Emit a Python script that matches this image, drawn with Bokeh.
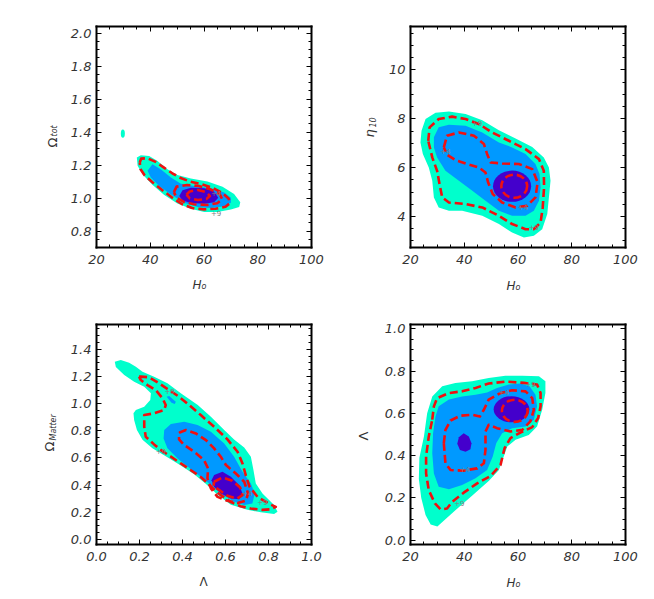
from math import pi
from bokeh.plotting import figure
from bokeh.models import (Range1d, LinearAxis, SingleIntervalTicker, PrintfTickFormatter,
                          BasicTickFormatter, CustomJSTickFormatter, Label, ColumnDataSource)
from bokeh.layouts import column, row
from bokeh.core.properties import value
from bokeh.embed import file_html
from bokeh.resources import INLINE

# ---------------- colours ----------------
CYAN = "#00ffcc"
BLUE = "#0099ff"
PURPLE = "#4400cc"
RED = "#f01010"

# ================= Panel 1 : Omega_tot vs H0 =================
P1_CYAN_H = [35.0, 36.5, 39.6, 42.7, 46.4, 50.1, 55.1, 61.3, 66.9, 71.2, 73.5, 73.1, 70.0, 65.0, 60.1, 55.1, 50.1, 45.2, 40.8, 37.1, 35.3]
P1_CYAN_O = [1.245, 1.260, 1.255, 1.225, 1.175, 1.140, 1.118, 1.100, 1.068, 1.025, 0.975, 0.946, 0.930, 0.916, 0.915, 0.935, 0.967, 1.018, 1.080, 1.144, 1.195]
P1_BLUE_H = [39.0, 40.8, 43.9, 47.7, 51.4, 56.3, 62.5, 67.5, 70.0, 70.0, 67.5, 62.5, 57.6, 52.6, 47.7, 43.3, 40.2]
P1_BLUE_O = [1.165, 1.205, 1.175, 1.124, 1.087, 1.073, 1.059, 1.033, 1.002, 0.972, 0.950, 0.940, 0.945, 0.972, 1.022, 1.073, 1.124]
P1_CORE_H = [50.8, 52.0, 55.1, 60.1, 63.8, 65.3, 63.8, 60.1, 55.1, 52.0]
P1_CORE_O = [1.013, 1.047, 1.063, 1.059, 1.039, 1.002, 0.975, 0.965, 0.970, 0.985]
P1_BLOB = (29.8, 1.39, 1.5, 0.05)  # small isolated island: centre H, centre Omega, width, height
P1_C9_H = [36.1, 36.6, 38.9, 42.0, 45.1, 48.2, 51.3, 55.0, 59.3, 63.0, 66.8, 69.2, 69.6, 68.0, 64.3, 59.9, 55.6, 51.9, 48.2, 44.4, 40.7, 37.9, 36.4]
P1_C9_O = [1.215, 1.239, 1.241, 1.219, 1.184, 1.150, 1.121, 1.099, 1.083, 1.063, 1.032, 0.996, 0.968, 0.947, 0.935, 0.931, 0.939, 0.962, 1.002, 1.049, 1.097, 1.138, 1.174]
P1_C4_H = [48.8, 49.8, 53.7, 58.1, 62.4, 65.9, 66.8, 64.9, 61.2, 56.2, 52.5, 49.8]
P1_C4_O = [1.036, 1.069, 1.079, 1.073, 1.053, 1.022, 0.992, 0.968, 0.958, 0.962, 0.976, 1.002]
P1_C1_H = [53.5, 54.7, 57.7, 60.9, 62.2, 60.9, 57.7, 54.7]
P1_C1_O = [1.020, 1.040, 1.049, 1.036, 1.012, 0.994, 0.988, 0.998]
P1_LAB_T = ["+4", "+9"]
P1_LAB_X = [64.5, 64.5]
P1_LAB_Y = [1.03, 0.912]

# ================= Panel 2 : eta_10 vs H0 =================
P2_CYAN_H = [23.7, 24.1, 25.6, 29.3, 34.3, 40.5, 46.7, 52.9, 59.1, 65.3, 69.6, 71.5, 72.1, 71.5, 70.9, 69.0, 65.9, 62.2, 57.8, 52.9, 46.7, 39.2, 34.3, 30.5, 28.7, 28.1, 26.8, 24.6]
P2_CYAN_E = [7.03, 7.51, 7.99, 8.25, 8.30, 8.20, 7.94, 7.53, 7.19, 6.85, 6.42, 6.01, 5.46, 4.78, 4.10, 3.48, 3.21, 3.14, 3.34, 3.69, 4.03, 4.23, 4.23, 4.37, 4.78, 5.46, 6.01, 6.56]
P2_BLUE_H = [28.7, 30.5, 34.3, 40.5, 46.7, 52.9, 57.8, 62.8, 66.5, 68.0, 68.4, 67.8, 65.9, 62.8, 57.8, 52.9, 47.9, 43.0, 38.0, 33.0, 29.9, 28.7]
P2_BLUE_E = [7.24, 7.65, 7.76, 7.72, 7.44, 7.03, 6.83, 6.56, 6.15, 5.74, 5.19, 4.64, 4.23, 4.03, 4.03, 4.23, 4.64, 5.05, 5.46, 5.87, 6.42, 6.83]
P2_CORE = (57.8, 5.24, 14.2, 1.28)
P2_C9_H = [26.6, 27.1, 30.5, 35.5, 40.5, 45.4, 50.4, 56.6, 62.8, 67.8, 69.6, 69.7, 69.2, 68.4, 65.9, 62.8, 57.8, 52.9, 46.7, 40.5, 34.3, 31.8, 30.8, 29.9, 28.1]
P2_C9_E = [7.10, 7.65, 7.99, 8.09, 7.99, 7.79, 7.44, 7.10, 6.76, 6.35, 5.87, 5.19, 4.37, 3.75, 3.48, 3.48, 3.69, 4.03, 4.37, 4.51, 4.57, 4.78, 5.33, 5.87, 6.42]
P2_C4_H = [32.4, 33.6, 38.0, 43.6, 47.3, 48.5, 49.8, 54.1, 60.3, 65.3, 67.3, 66.5, 63.4, 59.1, 54.1, 50.6, 48.9, 47.9, 45.4, 41.1, 36.7, 33.6]
P2_C4_E = [6.83, 7.31, 7.44, 7.31, 6.97, 6.56, 6.21, 6.17, 6.15, 5.94, 5.40, 4.78, 4.44, 4.37, 4.57, 4.92, 5.39, 5.80, 6.01, 6.15, 6.31, 6.53]
P2_C1 = (58.6, 5.24, 9.6, 0.95)
P2_LAB_T = ["+9", "+4", "+4", "+9"]
P2_LAB_X = [44.8, 33.0, 61.8, 65.9]
P2_LAB_Y = [7.81, 6.69, 4.40, 3.57]

# ================= Panel 3 : Omega_Matter vs Lambda =================
P3_CYAN_L = [0.085, 0.113, 0.152, 0.183, 0.214, 0.268, 0.330, 0.392, 0.471, 0.532, 0.594, 0.640, 0.687, 0.718, 0.730,
             0.741, 0.772, 0.826, 0.842, 0.826, 0.764, 0.702, 0.625, 0.563, 0.508, 0.454, 0.392, 0.322, 0.260, 0.214,
             0.188, 0.175, 0.172, 0.183, 0.222, 0.250, 0.253, 0.222, 0.175, 0.129, 0.090]
P3_CYAN_O = [1.309, 1.322, 1.302, 1.272, 1.235, 1.199, 1.150, 1.076, 0.990, 0.904, 0.806, 0.737, 0.678, 0.609, 0.511,
             0.413, 0.339, 0.253, 0.204, 0.188, 0.200, 0.218, 0.255, 0.330, 0.410, 0.480, 0.545, 0.612, 0.672, 0.735,
             0.806, 0.879, 0.930, 0.953, 0.978, 1.027, 1.076, 1.125, 1.162, 1.211, 1.270]
P3_BLUE_L = [0.315, 0.346, 0.408, 0.470, 0.532, 0.594, 0.640, 0.679, 0.718, 0.736, 0.725, 0.687, 0.640, 0.578, 0.524, 0.454, 0.377, 0.330, 0.312]
P3_BLUE_O = [0.806, 0.850, 0.867, 0.843, 0.793, 0.707, 0.609, 0.499, 0.413, 0.339, 0.265, 0.253, 0.278, 0.339, 0.413, 0.499, 0.597, 0.671, 0.744]
P3_BLOB_L = [0.326, 0.338, 0.369, 0.364, 0.349]
P3_BLOB_O = [1.051, 1.056, 1.014, 0.997, 1.007]
P3_CORE_L = [0.547, 0.586, 0.625, 0.664, 0.679, 0.664, 0.625, 0.578, 0.547, 0.535]
P3_CORE_O = [0.474, 0.499, 0.462, 0.400, 0.339, 0.297, 0.302, 0.339, 0.388, 0.437]
P3_C9_L = [0.198, 0.206, 0.245, 0.291, 0.338, 0.384, 0.431, 0.485, 0.547, 0.609, 0.656, 0.679, 0.695, 0.712, 0.749, 0.803,
           0.834, 0.811, 0.772, 0.717, 0.670, 0.625, 0.563, 0.516, 0.485, 0.439, 0.392, 0.346, 0.307, 0.268, 0.229,
           0.222, 0.222, 0.268, 0.315, 0.322, 0.307, 0.276, 0.237, 0.206]
P3_C9_O = [1.199, 1.199, 1.194, 1.150, 1.100, 1.051, 0.990, 0.916, 0.830, 0.737, 0.646, 0.560, 0.470, 0.388, 0.314, 0.262,
           0.240, 0.222, 0.218, 0.228, 0.245, 0.275, 0.345, 0.415, 0.460, 0.510, 0.560, 0.610, 0.650, 0.700, 0.757,
           0.830, 0.916, 0.929, 0.953, 0.990, 1.039, 1.100, 1.137, 1.174]
P3_C4_L = [0.384, 0.416, 0.462, 0.509, 0.547, 0.578, 0.602, 0.648, 0.687, 0.705, 0.695, 0.656, 0.609, 0.563, 0.532, 0.516, 0.519, 0.500, 0.454, 0.408, 0.384]
P3_C4_O = [0.786, 0.806, 0.781, 0.732, 0.671, 0.609, 0.548, 0.486, 0.425, 0.339, 0.285, 0.268, 0.285, 0.314, 0.376, 0.450, 0.523, 0.585, 0.646, 0.695, 0.737]
P3_C1_L = [0.547, 0.586, 0.632, 0.668, 0.679, 0.653, 0.609, 0.571, 0.544]
P3_C1_O = [0.425, 0.457, 0.432, 0.383, 0.327, 0.300, 0.322, 0.364, 0.393]
P3_LAB_T = ["+9", "+9", "+4", "+9"]
P3_LAB_X = [0.34, 0.30, 0.70, 0.772]
P3_LAB_Y = [1.09, 0.655, 0.34, 0.275]

# ================= Panel 4 : Lambda vs H0 =================
P4_CYAN_H = [25.0, 26.2, 28.1, 31.8, 36.7, 42.9, 49.1, 55.3, 61.6, 67.8, 70.2, 70.2, 69.0, 67.1, 64.0, 59.1, 56.0, 54.7, 52.9, 49.1, 42.9, 38.3, 33.5, 30.0, 27.5, 25.6, 24.0, 23.1, 23.3]
P4_CYAN_L = [0.491, 0.601, 0.680, 0.728, 0.744, 0.752, 0.767, 0.778, 0.778, 0.775, 0.752, 0.696, 0.617, 0.538, 0.498, 0.475, 0.443, 0.396, 0.332, 0.280, 0.210, 0.160, 0.105, 0.065, 0.075, 0.120, 0.200, 0.290, 0.390]
P4_BLUE_H = [29.3, 30.5, 34.3, 39.2, 44.2, 48.5, 52.2, 56.6, 60.9, 64.3, 66.5, 67.1, 65.9, 62.8, 57.8, 54.1, 51.9, 50.6, 48.5, 44.2, 39.2, 34.3, 30.5, 28.7, 28.1, 28.4]
P4_BLUE_L = [0.585, 0.633, 0.665, 0.680, 0.688, 0.699, 0.720, 0.736, 0.741, 0.728, 0.688, 0.633, 0.570, 0.538, 0.530, 0.506, 0.459, 0.396, 0.332, 0.293, 0.261, 0.241, 0.253, 0.316, 0.411, 0.506]
P4_CORE = (57.6, 0.619, 13.3, 0.123)
P4_CORE2_H = [39.8, 41.7, 42.7, 42.3, 40.5, 38.4, 37.4, 38.0]
P4_CORE2_L = [0.506, 0.491, 0.459, 0.430, 0.419, 0.427, 0.456, 0.487]
P4_C9_H = [28.1, 28.7, 29.9, 34.3, 39.2, 44.2, 49.1, 55.3, 62.2, 67.1, 68.4, 68.4, 67.5, 65.3, 60.9, 57.2, 55.0, 53.5, 49.8, 44.8, 39.8, 35.5, 33.6, 31.2, 29.1, 26.8, 25.8, 25.8, 26.8]
P4_C9_L = [0.570, 0.633, 0.672, 0.696, 0.704, 0.720, 0.741, 0.750, 0.744, 0.736, 0.696, 0.633, 0.578, 0.535, 0.509, 0.483, 0.435, 0.356, 0.304, 0.269, 0.225, 0.182, 0.150, 0.146, 0.174, 0.237, 0.316, 0.396, 0.491]
P4_C4_H = [32.4, 33.0, 34.9, 38.6, 42.9, 45.8, 47.3, 49.1, 53.5, 57.8, 62.8, 65.3, 65.9, 64.6, 61.6, 57.2, 52.2, 49.1, 47.9, 47.9, 47.3, 44.8, 39.8, 34.9, 33.0]
P4_C4_L = [0.459, 0.522, 0.566, 0.589, 0.593, 0.585, 0.617, 0.665, 0.696, 0.709, 0.704, 0.672, 0.617, 0.562, 0.522, 0.514, 0.530, 0.546, 0.514, 0.427, 0.364, 0.340, 0.329, 0.332, 0.364]
P4_C1 = (58.8, 0.612, 9.6, 0.105)
P4_LAB_T = ["+9", "+4", "+4", "+9"]
P4_LAB_X = [64.7, 54.7, 40.2, 38.2]
P4_LAB_Y = [0.737, 0.699, 0.335, 0.177]

# ---------------- axis settings: (start, end, major interval) ----------------
X_H = (20, 100, 20)
X_L = (0.0, 1.0, 0.2)
Y_P1 = (0.70, 2.04, 0.2)
Y_P2 = (2.73, 11.78, 2)
Y_P3 = (-0.037, 1.583, 0.2)
Y_P4 = (-0.02, 1.02, 0.2)

FONT = "DejaVu Sans"
TXT = "#333333"


def style_axis(ax, interval, fmt, labels, standoff):
    ax.ticker = SingleIntervalTicker(interval=interval, num_minor_ticks=4)
    ax.axis_line_width = 2
    ax.axis_line_color = "black"
    ax.axis_line_cap = "square"
    ax.major_tick_in = 5
    ax.major_tick_out = 0
    ax.minor_tick_in = 3
    ax.minor_tick_out = 0
    ax.major_tick_line_color = "black"
    ax.minor_tick_line_color = "black"
    ax.major_tick_line_width = 1
    ax.minor_tick_line_width = 1
    ax.axis_label = None
    if labels:
        ax.formatter = fmt
        ax.major_label_text_font = FONT
        ax.major_label_text_font_style = "italic"
        ax.major_label_text_font_size = "13px"
        ax.major_label_text_color = TXT
        ax.major_label_standoff = standoff
    else:
        ax.formatter = CustomJSTickFormatter(code="return ''")
        ax.major_label_text_font_size = "0px"
        ax.major_label_standoff = 0


def make_panel(width, height, box, xspec, yspec, xfmt, yfmt):
    """box = (left, right, top, bottom) of the plotted box, in canvas pixels.
    The frame fills the whole canvas; the axes are pinned to the box edges."""
    bl, br, bt, bb = box
    sx = (br - bl) / (xspec[1] - xspec[0])
    sy = (bb - bt) / (yspec[1] - yspec[0])
    xr = Range1d(xspec[0] - bl / sx, xspec[1] + (width - br) / sx)
    yr = Range1d(yspec[0] - (height - bb) / sy, yspec[1] + bt / sy)
    p = figure(width=width, height=height, x_range=xr, y_range=yr, x_axis_type=None, y_axis_type=None,
               output_backend="svg", toolbar_location=None, tools="", min_border=0)
    p.outline_line_color = None
    p.background_fill_color = "white"
    p.border_fill_color = "white"
    xb = (xspec[0], xspec[1])
    yb = (yspec[0], yspec[1])
    for loc, spec, fmt, lab, so, fixed, bounds in (
            ("below", xspec, xfmt, True, 7, yspec[0], xb),
            ("above", xspec, xfmt, False, 0, yspec[1], xb),
            ("left", yspec, yfmt, True, 5, xspec[0], yb),
            ("right", yspec, yfmt, False, 0, xspec[1], yb)):
        ax = LinearAxis(fixed_location=fixed, bounds=bounds)
        style_axis(ax, spec[2], fmt() if lab else None, lab, so)
        p.add_layout(ax, loc)
    return p


def fill(p, xs, ys, color):
    p.patch(x=xs, y=ys, fill_color=color, line_color=None)


def dashed(p, xs, ys):
    p.line(x=list(xs) + [xs[0]], y=list(ys) + [ys[0]], line_color=RED, line_width=2.6,
           line_dash="8 4", line_join="round")


def ell_fill(p, e, color):
    p.ellipse(x=[e[0]], y=[e[1]], width=[e[2]], height=[e[3]], fill_color=color, line_color=None)


def ell_dash(p, e):
    p.ellipse(x=[e[0]], y=[e[1]], width=[e[2]], height=[e[3]], fill_color=None,
              line_color=RED, line_width=2.6, line_dash="8 4")


def level_labels(p, t, x, y):
    src = ColumnDataSource(dict(t=t, x=x, y=y))
    p.text(x="x", y="y", text="t", source=src, text_font=value(FONT), text_font_size="7px",
           text_color="#808080", text_align="center", text_baseline="middle")


def title_part(p, spec_x, spec_y, text, dx, dy, size, style, angle=0.0):
    # anchored at the lower-left corner of the plotted box, offset in pixels
    p.add_layout(Label(x=spec_x[0], y=spec_y[0], x_offset=dx, y_offset=dy, text=text,
                       text_font=FONT, text_font_size=size, text_font_style=style, text_color=TXT,
                       angle=angle, text_align="left", text_baseline="alphabetic"))


int_fmt = lambda: BasicTickFormatter()
dec_fmt = lambda: PrintfTickFormatter(format="%.1f")

# ---------- panel 1 ----------
p1 = make_panel(326, 296, (96, 311, 26, 247), X_H, Y_P1, int_fmt, dec_fmt)
fill(p1, P1_CYAN_H, P1_CYAN_O, CYAN)
ell_fill(p1, P1_BLOB, CYAN)
fill(p1, P1_BLUE_H, P1_BLUE_O, BLUE)
fill(p1, P1_CORE_H, P1_CORE_O, PURPLE)
dashed(p1, P1_C9_H, P1_C9_O)
dashed(p1, P1_C4_H, P1_C4_O)
dashed(p1, P1_C1_H, P1_C1_O)
level_labels(p1, P1_LAB_T, P1_LAB_X, P1_LAB_Y)
title_part(p1, X_H, Y_P1, "H", 96, -37.5, "12px", "italic")
title_part(p1, X_H, Y_P1, "o", 105, -39, "8px", "italic")
title_part(p1, X_H, Y_P1, "Ω", -44.5, 100, "13px", "normal", pi / 2)
title_part(p1, X_H, Y_P1, "tot", -42, 111, "8px", "italic", pi / 2)

# ---------- panel 2 ----------
p2 = make_panel(320, 296, (84, 299, 26, 247), X_H, Y_P2, int_fmt, int_fmt)
fill(p2, P2_CYAN_H, P2_CYAN_E, CYAN)
fill(p2, P2_BLUE_H, P2_BLUE_E, BLUE)
ell_fill(p2, P2_CORE, PURPLE)
dashed(p2, P2_C9_H, P2_C9_E)
dashed(p2, P2_C4_H, P2_C4_E)
ell_dash(p2, P2_C1)
level_labels(p2, P2_LAB_T, P2_LAB_X, P2_LAB_Y)
title_part(p2, X_H, Y_P2, "H", 96, -38, "12px", "italic")
title_part(p2, X_H, Y_P2, "o", 105, -39.5, "8px", "italic")
title_part(p2, X_H, Y_P2, "η", -41, 110, "13px", "italic", pi / 2)
title_part(p2, X_H, Y_P2, "10", -38, 120, "8px", "italic", pi / 2)

# ---------- panel 3 ----------
p3 = make_panel(326, 300, (96, 311, 28, 248), X_L, Y_P3, dec_fmt, dec_fmt)
fill(p3, P3_CYAN_L, P3_CYAN_O, CYAN)
fill(p3, P3_BLUE_L, P3_BLUE_O, BLUE)
fill(p3, P3_BLOB_L, P3_BLOB_O, BLUE)
fill(p3, P3_CORE_L, P3_CORE_O, PURPLE)
dashed(p3, P3_C9_L, P3_C9_O)
dashed(p3, P3_C4_L, P3_C4_O)
dashed(p3, P3_C1_L, P3_C1_O)
level_labels(p3, P3_LAB_T, P3_LAB_X, P3_LAB_Y)
title_part(p3, X_L, Y_P3, "Λ", 103, -37.7, "12px", "normal")
title_part(p3, X_L, Y_P3, "Ω", -47.5, 93, "13px", "normal", pi / 2)
title_part(p3, X_L, Y_P3, "Matter", -43.5, 104, "8px", "italic", pi / 2)

# ---------- panel 4 ----------
p4 = make_panel(320, 300, (84, 299, 28, 248), X_H, Y_P4, int_fmt, dec_fmt)
fill(p4, P4_CYAN_H, P4_CYAN_L, CYAN)
fill(p4, P4_BLUE_H, P4_BLUE_L, BLUE)
ell_fill(p4, P4_CORE, PURPLE)
fill(p4, P4_CORE2_H, P4_CORE2_L, PURPLE)
dashed(p4, P4_C9_H, P4_C9_L)
dashed(p4, P4_C4_H, P4_C4_L)
ell_dash(p4, P4_C1)
level_labels(p4, P4_LAB_T, P4_LAB_X, P4_LAB_Y)
title_part(p4, X_H, Y_P4, "H", 96, -38.7, "12px", "italic")
title_part(p4, X_H, Y_P4, "o", 105, -40, "8px", "italic")
title_part(p4, X_H, Y_P4, "Λ", -46.7, 104, "13px", "normal", pi / 2)

layout = column(row(p1, p2, spacing=0), row(p3, p4, spacing=0), spacing=0)
open("out.html", "w").write(file_html(layout, INLINE))
